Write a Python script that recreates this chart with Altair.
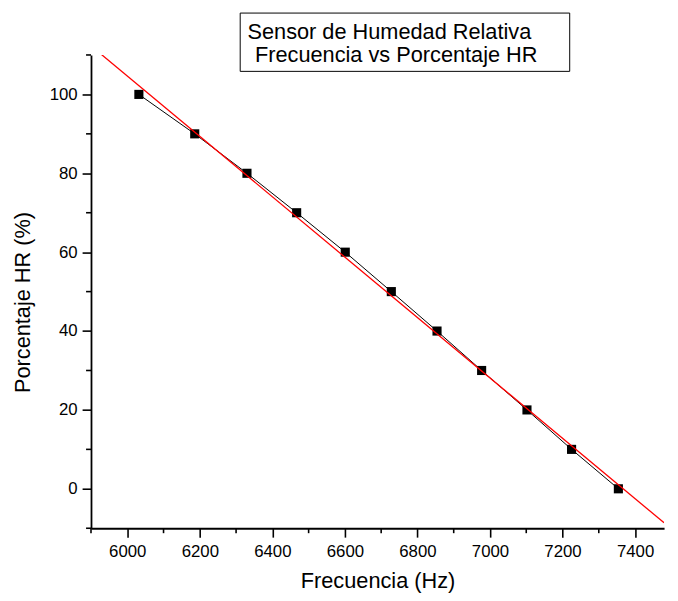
import altair as alt
import pandas as pd

# Data
freq = [6032, 6186, 6330, 6467, 6601, 6728, 6854, 6977, 7102, 7225, 7354]
hr = [100, 90, 80, 70, 60, 50, 40, 30, 20, 10, 0]

x_major = list(range(6000, 7401, 200))
x_minor = list(range(5900, 7401, 200))
y_major = list(range(0, 101, 20))
y_minor = list(range(-10, 111, 20))
x_domain = [5900, 7480]
y_domain = [-10, 110]

title_lines = ["Sensor de Humedad Relativa", "Frecuencia vs Porcentaje HR"]

df = pd.DataFrame({"freq": freq, "hr": hr})

FONT = "Liberation Sans"
PLOT_H = 479

x_axis = alt.Axis(
    title="Frecuencia (Hz)",
    values=x_major,
    format="d",
    tickSize=9,
    labelPadding=7,
    titlePadding=11,
    grid=False,
    labelOverlap=False,
    labelFlush=False,
)
y_axis = alt.Axis(
    title="Porcentaje HR (%)",
    values=y_major,
    tickSize=9,
    labelPadding=5,
    titlePadding=15,
    titleY=250,
    grid=False,
    labelOverlap=False,
    labelFlush=False,
)
x_scale = alt.Scale(domain=x_domain, nice=False, zero=False)
y_scale = alt.Scale(domain=y_domain, nice=False, zero=False)

def X():
    return alt.X("freq:Q", scale=x_scale, axis=x_axis)

def Y():
    return alt.Y("hr:Q", scale=y_scale, axis=y_axis)

base = alt.Chart(df)

conn = base.mark_line(color="black", strokeWidth=1).encode(x=X(), y=Y())
pts = base.mark_point(shape="square", filled=True, color="black", size=85, opacity=1).encode(
    x=X(), y=Y()
)
fit = (
    base.transform_regression("freq", "hr", extent=x_domain)
    .mark_line(color="#ff0000", strokeWidth=1.3, clip=True)
    .encode(x=X(), y=Y())
)

# minor ticks
ymin_ticks = alt.Chart(pd.DataFrame({"hr": y_minor})).mark_rule(
    color="black", strokeWidth=1.6
).encode(y=Y(), x=alt.value(-5), x2=alt.value(0))
xmin_ticks = alt.Chart(pd.DataFrame({"freq": x_minor})).mark_rule(
    color="black", strokeWidth=1.6
).encode(x=X(), y=alt.value(PLOT_H), y2=alt.value(PLOT_H + 5))

box = alt.Chart(pd.DataFrame({"t": [title_lines[0]]})).mark_rect(
    fill="white", stroke="black", strokeWidth=1
).encode(
    x=alt.value(151), x2=alt.value(484.5), y=alt.value(-42.4), y2=alt.value(16.6)
)
t1 = alt.Chart(pd.DataFrame({"t": [title_lines[0]]})).mark_text(
    align="left", baseline="alphabetic", fontSize=22, font=FONT, color="black"
).encode(text="t:N", x=alt.value(158.4), y=alt.value(-15.7))
t2 = alt.Chart(pd.DataFrame({"t": [title_lines[1]]})).mark_text(
    align="left", baseline="alphabetic", fontSize=22, font=FONT, color="black"
).encode(text="t:N", x=alt.value(166), y=alt.value(7.6))

chart = (
    alt.layer(conn, pts, fit, ymin_ticks, xmin_ticks, box, t1, t2)
    .properties(
        width=580,
        height=PLOT_H,
        autosize=alt.AutoSizeParams(type="none"),
        padding={"left": 84, "top": 44, "right": 6, "bottom": 62},
    )
    .configure_view(stroke=None)
    .configure_axis(
        domainColor="black",
        domainWidth=1.8,
        tickColor="black",
        tickWidth=1.6,
        labelFont=FONT,
        labelFontSize=17,
        labelColor="black",
        titleFont=FONT,
        titleFontSize=22,
        titleFontWeight="normal",
        titleColor="black",
    )
)

chart.save("out.html", embed_options={"renderer": "svg", "actions": False})
